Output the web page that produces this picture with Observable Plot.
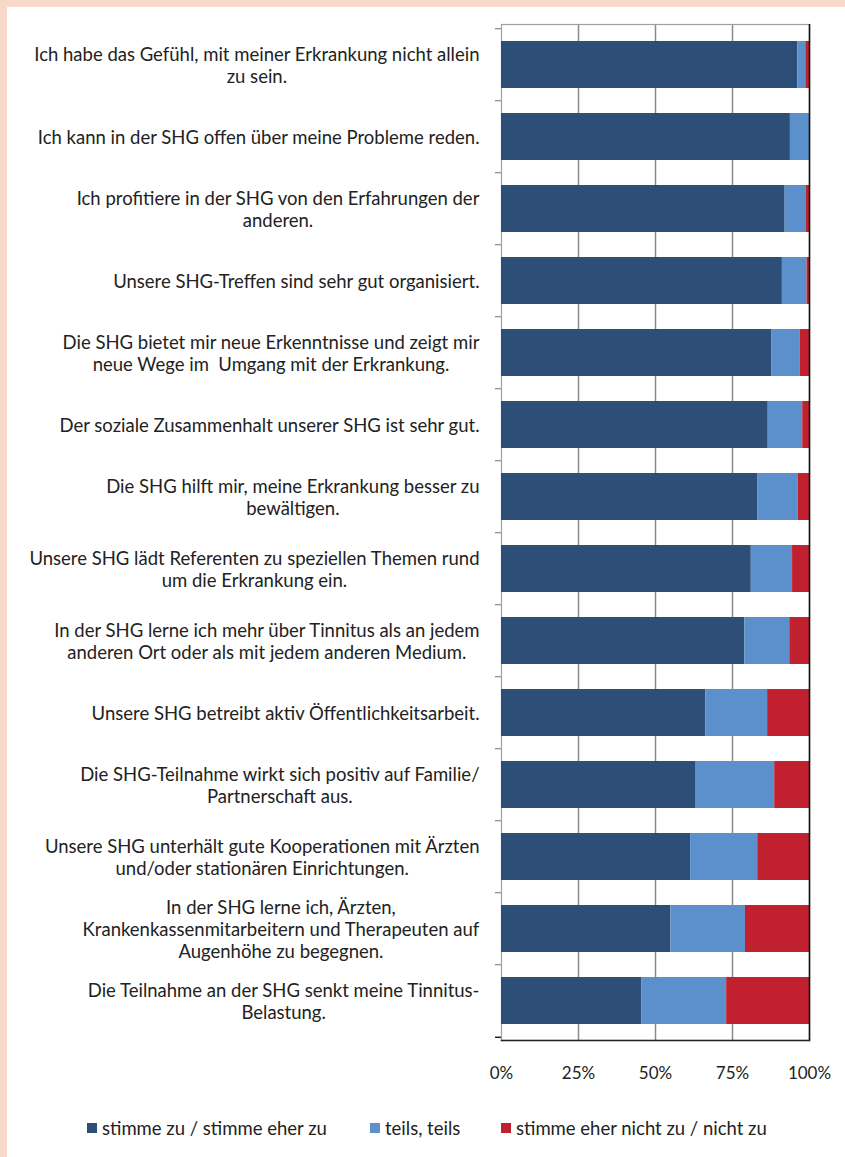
<!DOCTYPE html>
<html><head><meta charset="utf-8">
<script src="https://cdn.jsdelivr.net/npm/d3@7"></script>
<script src="https://cdn.jsdelivr.net/npm/@observablehq/plot@0.6"></script>
<style>
html,body{margin:0;padding:0;background:#f8d8cb;width:845px;height:1157px;overflow:hidden;}
#panel{position:absolute;left:7px;top:7px;width:838px;height:1150px;background:#fff;font-family:Lato,sans-serif;color:#222;}
#chart{position:absolute;left:0;top:0;}
.lg{position:absolute;top:1110px;height:22px;line-height:22px;font-size:18.5px;white-space:nowrap;color:#222;}
.sw{position:absolute;width:10px;height:10px;top:6px;}
.lt{position:absolute;}
</style></head><body><div id="panel"><div id="chart"></div><div id="legend"></div></div>
<script>
const categories = [
  "Ich habe das Gefühl, mit meiner Erkrankung nicht allein\nzu sein.",
  "Ich kann in der SHG offen über meine Probleme reden.",
  "Ich profitiere in der SHG von den Erfahrungen der\nanderen.",
  "Unsere SHG-Treffen sind sehr gut organisiert.",
  "Die SHG bietet mir neue Erkenntnisse und zeigt mir\nneue Wege im  Umgang mit der Erkrankung.",
  "Der soziale Zusammenhalt unserer SHG ist sehr gut.",
  "Die SHG hilft mir, meine Erkrankung besser zu\nbewältigen.",
  "Unsere SHG lädt Referenten zu speziellen Themen rund\num die Erkrankung ein.",
  "In der SHG lerne ich mehr über Tinnitus als an jedem\nanderen Ort oder als mit jedem anderen Medium.",
  "Unsere SHG betreibt aktiv Öffentlichkeitsarbeit.",
  "Die SHG-Teilnahme wirkt sich positiv auf Familie/\nPartnerschaft aus.",
  "Unsere SHG unterhält gute Kooperationen mit Ärzten\nund/oder stationären Einrichtungen.",
  "In der SHG lerne ich, Ärzten,\nKrankenkassenmitarbeitern und Therapeuten auf\nAugenhöhe zu begegnen.",
  "Die Teilnahme an der SHG senkt meine Tinnitus-\nBelastung."
];
const agree    = [96.2, 93.8, 92.1, 91.2, 87.7, 86.6, 83.3, 81.1, 79.0, 66.3, 63.2, 61.4, 55.0, 45.5];
const partly   = [ 2.6,  6.2,  6.9,  8.0,  9.3, 11.2, 13.0, 13.4, 14.6, 20.1, 25.5, 21.8, 24.2, 27.6];
const disagree = [ 1.2,  0.0,  1.0,  0.8,  3.0,  2.2,  3.7,  5.5,  6.4, 13.6, 11.3, 16.8, 20.8, 26.9];
const seriesNames  = ["stimme zu / stimme eher zu", "teils, teils", "stimme eher nicht zu / nicht zu"];
const seriesColors = ["#2d4e77", "#5b90cc", "#c1212f"];
const xTicks = [0, 25, 50, 75, 100];

const rows = [];
categories.forEach((c, i) => {
  [agree[i], partly[i], disagree[i]].forEach((v, k) => rows.push({cat: c, series: seriesNames[k], value: v}));
});

const W = 838, H = 1090, mL = 494, mR = 36, mT = 17, mB = 57;
const step = (H - mT - mB) / categories.length;
const tickLen = 6 * 100 / (W - mL - mR);

const plot = Plot.plot({
  width: W, height: H,
  marginLeft: mL, marginRight: mR, marginTop: mT, marginBottom: mB,
  style: {fontFamily: "Lato, sans-serif", color: "#222", background: "transparent"},
  x: {domain: [0, 100], axis: null},
  y: {domain: categories, paddingInner: 0.35, paddingOuter: 0.175, axis: null},
  color: {domain: seriesNames, range: seriesColors},
  marks: [
    Plot.ruleX([25, 50, 75], {stroke: "#8a8a8a", strokeWidth: 1.5}),
    Plot.frame({stroke: "#a0a0a0", strokeWidth: 1.2}),
    Plot.barX(rows, {y: "cat", x: "value", fill: "series"}),
    Plot.ruleY(categories, {y: d => d, x1: -tickLen, x2: 0, dy: -step / 2, stroke: "#8a8a8a", strokeWidth: 1.2}),
    Plot.ruleY(categories.slice(-1), {y: d => d, x1: -tickLen, x2: 0, dy: step / 2, stroke: "#222", strokeWidth: 1.5}),
    Plot.ruleX([100], {stroke: "#111", strokeWidth: 1.6}),
    Plot.frame({anchor: "bottom", stroke: "#222", strokeWidth: 1.6}),
    Plot.text(categories, {y: d => d, frameAnchor: "left", textAnchor: "end", dx: -22, fontSize: 18.5, lineHeight: 1.2, fill: "#222"}),
    Plot.axisX({ticks: xTicks, tickFormat: d => d + "%", tickSize: 0, tickPadding: 26, fontSize: 17, anchor: "bottom", label: null})
  ]
});
document.getElementById("chart").appendChild(plot);

// center each multi-line label within its own block (block right-aligned)
plot.querySelectorAll('g[aria-label="text"] text').forEach(t => {
  const w = t.getBBox().width;
  t.setAttribute("text-anchor", "middle");
  t.setAttribute("x", -w / 2);
  t.querySelectorAll("tspan").forEach(s => s.setAttribute("x", -w / 2));
});

const legendX = [80, 363, 494];
const legend = document.getElementById("legend");
seriesNames.forEach((name, i) => {
  const item = document.createElement("div");
  item.className = "lg";
  item.style.left = legendX[i] + "px";
  item.innerHTML = `<span class="sw" style="left:0;background:${seriesColors[i]}"></span><span class="lt" style="left:15px">${name}</span>`;
  legend.appendChild(item);
});
</script>
</body></html>
